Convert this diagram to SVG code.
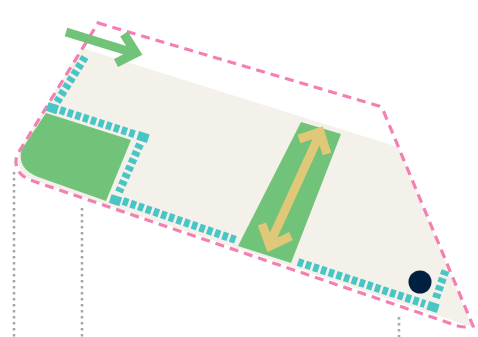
<svg xmlns="http://www.w3.org/2000/svg" width="478" height="337" viewBox="0 0 478 337">
<style>
.dots{fill:none;stroke:#a8a8a0;stroke-width:2.6;stroke-dasharray:2.6 3.4}
.pink{fill:none;stroke:#f47fb2;stroke-width:3.2;stroke-dasharray:9 6}
.teal{fill:none;stroke:#49c5c5;stroke-width:8;stroke-dasharray:5.500 2.600}
.tealb{fill:none;stroke:#49c5c5;stroke-width:8;stroke-dasharray:5 3}
.corner{fill:#49c5c5}
.arrow{fill:none;stroke-width:9;stroke-linejoin:miter}
</style>
<g id="guides">
<path class="dots" d="M14 172V337"/>
<path class="dots" d="M82 208V337"/>
<path class="dots" d="M399 317V337"/>
</g>
<g id="floor"><path fill="#f4f1eb" d="M82 48L398 147L472 327L30 179Q14 172 20 148Z"/></g>
<g id="outline"><path class="pink" d="M98 23L379 106Q382 107 383 110L473 326L465 327Q462 327 458 326L30 180Q12 172 17 155Z"/></g>
<g id="green-zone"><path fill="#71c37a" d="M46 113L131 140L106 201L38 177Q16 168 22 149Z"/></g>
<g id="green-band"><path fill="#71c37a" d="M301 122L341 134L291 263L238 246Z"/></g>
<g id="teal-edges">
<path class="tealb" d="M85 57L57 102"/>
<path class="teal" d="M60 110L137 135"/>
<path class="tealb" d="M140 144L119 192"/>
<path class="teal" d="M123 201L236 240"/>
<path class="teal" d="M298 262L425 304"/>
<path class="tealb" d="M436 298L446 269"/>
<rect class="corner" x="47" y="103.500" width="11" height="9" transform="rotate(18 52 108)"/>
<rect class="corner" x="137.500" y="132.500" width="11" height="9" transform="rotate(18 143 137)"/>
<rect class="corner" x="110" y="195.500" width="11" height="9" transform="rotate(18 115 200)"/>
<rect class="corner" x="427.500" y="302.500" width="11" height="9" transform="rotate(18 433 307)"/>
</g>
<g id="connectors">
<path class="arrow" stroke="#71c37a" d="M66 32L134 53M124 34L136 53L116 63"/>
<path class="arrow" stroke="#dfc878" d="M318 138L270 243M299 139L320 132L327 154M262 224L270 246L291 236"/>
</g>
<g id="marker"><circle cx="420" cy="282" r="11.500" fill="#011f3f"/></g>
</svg>
